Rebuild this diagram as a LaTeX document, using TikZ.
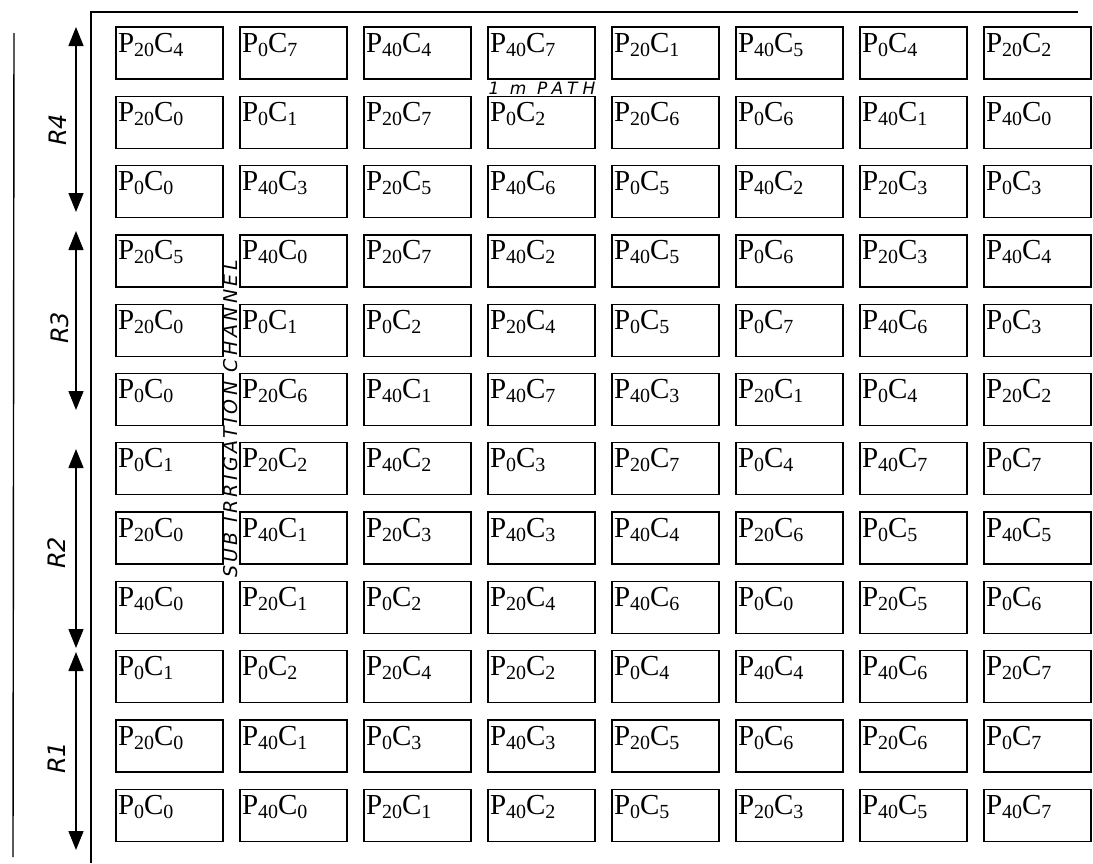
\documentclass[tikz,border=0pt]{standalone}
\usepackage{fontspec}
\setmainfont{Liberation Serif}
\newfontfamily\hand[LetterSpace=18]{DejaVu Sans}
\newfontfamily\handpath[LetterSpace=30]{DejaVu Sans}
\newfontfamily\handr{DejaVu Sans}
\usetikzlibrary{arrows.meta}
\newcommand\sbx[1]{\raisebox{-4pt}{\fontsize{20}{20}\selectfont #1}}
\newcommand\pc[2]{P\sbx{#1}C\sbx{#2}}
\tikzset{
  plot/.style={draw, line width=1.3pt, minimum width=107pt, minimum height=52pt,
    inner xsep=2pt, inner ysep=0pt, text width=103pt, align=left,
    text height=25pt, text depth=27pt, font=\fontsize{29}{30}\selectfont},
  frame/.style={line width=1.4pt},
  reparrow/.style={line width=1.4pt, {Triangle[width=15pt,length=19pt]}-{Triangle[width=15pt,length=19pt]}},
  replabel/.style={rotate=90, font=\handr\fontsize{24}{24}\selectfont\itshape, inner sep=0pt},
  handnote/.style={inner sep=0pt}
}
\begin{document}
\begin{tikzpicture}[x=1pt,y=1pt]
\useasboundingbox (0,0) rectangle (1093,-863);
% frame
\coordinate (fb) at (91,-863);
\coordinate (ft) at (91,-12);
\coordinate (fr) at (1078,-12);
\draw[frame] (fb) -- (ft) -- (fr);
\coordinate (lt) at (14,-33);
\coordinate (lb) at (13,-857);
\draw[frame] (lt) -- (lb);
% plots
\foreach \row [count=\r from 0] in {
 {20/4,0/7,40/4,40/7,20/1,40/5,0/4,20/2},
 {20/0,0/1,20/7,0/2,20/6,0/6,40/1,40/0},
 {0/0,40/3,20/5,40/6,0/5,40/2,20/3,0/3},
 {20/5,40/0,20/7,40/2,40/5,0/6,20/3,40/4},
 {20/0,0/1,0/2,20/4,0/5,0/7,40/6,0/3},
 {0/0,20/6,40/1,40/7,40/3,20/1,0/4,20/2},
 {0/1,20/2,40/2,0/3,20/7,0/4,40/7,0/7},
 {20/0,40/1,20/3,40/3,40/4,20/6,0/5,40/5},
 {40/0,20/1,0/2,20/4,40/6,0/0,20/5,0/6},
 {0/1,0/2,20/4,20/2,0/4,40/4,40/6,20/7},
 {20/0,40/1,0/3,40/3,20/5,0/6,20/6,0/7},
 {0/0,40/0,20/1,40/2,0/5,20/3,40/5,40/7}} {
  \foreach \p/\k [count=\c from 0] in \row {
    \node[plot] (b\r-\c) at ({116+124*\c+53.5},{-(27+69.3*\r+26)}) {\pc{\p}{\k}};
  }
}
% replication arrows
\coordinate (r4t) at (76,-27);  \coordinate (r4b) at (76,-212);
\coordinate (r3t) at (76,-231); \coordinate (r3b) at (76,-410);
\coordinate (r2t) at (76,-449); \coordinate (r2b) at (76,-648);
\coordinate (r1t) at (76,-652); \coordinate (r1b) at (76,-850);
\draw[reparrow] (r4t) -- (r4b);
\draw[reparrow] (r3t) -- (r3b);
\draw[reparrow] (r2t) -- (r2b);
\draw[reparrow] (r1t) -- (r1b);
\node[replabel] (l4) at (58,-130) {R4};
\node[replabel] (l3) at (60,-328) {R3};
\node[replabel] (l2) at (57,-553) {R2};
\node[replabel] (l1) at (57,-758) {R1};
% notes
\node[handnote, font=\handpath\fontsize{17}{18}\selectfont\itshape] (path) at (542,-88) {1 m PATH};
\node[handnote, rotate=90, font=\hand\fontsize{19}{20}\selectfont\itshape] (chan) at (231,-419) {SUB IRRIGATION CHANNEL};
\end{tikzpicture}
\end{document}
